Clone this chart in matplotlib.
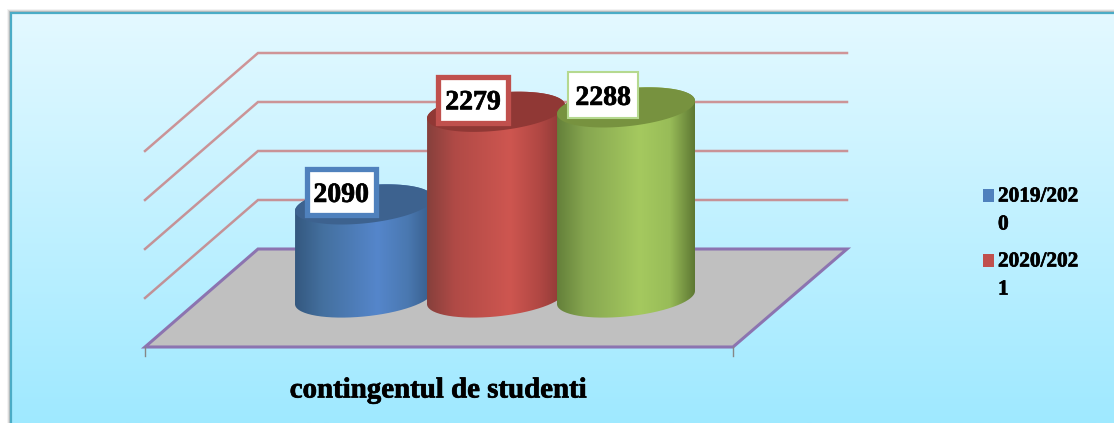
import numpy as np
import matplotlib
matplotlib.use("Agg")
import matplotlib.pyplot as plt
import matplotlib.patheffects as pe
from matplotlib.colors import LinearSegmentedColormap
from matplotlib.patches import Polygon, Rectangle
from matplotlib.path import Path

# chart values
years = ["2019/2020", "2020/2021", "2021/2022"]
values = [2090, 2279, 2288]
gridlines = [2000, 2100, 2200, 2300]
axis_min = 1900
title = "contingentul de studenti"

plt.rcParams["font.family"] = ["Liberation Serif", "DejaVu Serif"]

W, H = 1114, 423
fig = plt.figure(figsize=(W / 100, H / 100), dpi=100)
ax = fig.add_axes([0, 0, 1, 1])
ax.set_xlim(0, W)
ax.set_ylim(H, 0)
ax.axis("off")

# floor corners in pixels
front_left, front_right = 145, 733
back_left, back_right = 258, 847
front_y, back_y = 347, 249
px_per_unit = 0.49

# the reference text is heavier than plain bold
heavy = [pe.withStroke(linewidth=0.5, foreground="black")]


def val_y(v, base):
    return base - (v - axis_min) * px_per_unit


# panel background, small shadow on the left
for i, a in enumerate([0.05, 0.09, 0.14]):
    ax.add_patch(Rectangle((7 + i, 9 + i), 1114, 430, fc="black", ec="none", alpha=a, zorder=0))
bg = LinearSegmentedColormap.from_list("bg", ["#E4F9FF", "#9FE9FF"])
ax.imshow(np.linspace(0, 1, 256)[:, None], cmap=bg, extent=[10, W, H, 12], aspect="auto", zorder=1)
ax.set_xlim(0, W)
ax.set_ylim(H, 0)
ax.plot([11, 11, W], [H, 13, 13], color="#4BACC6", lw=1.6, zorder=2, solid_joinstyle="miter")

# floor
floor_pts = [(front_left, front_y), (front_right, front_y), (back_right, back_y), (back_left, back_y)]
ax.add_patch(Polygon(floor_pts, closed=True, fc="#C0C0C0", ec="#8C74B0", lw=2.2, zorder=3))
for x in (front_left, front_right):
    ax.plot([x, x], [front_y, front_y + 9], color="#868686", lw=1, zorder=3)

# gridlines
for g in gridlines:
    yb = val_y(g, back_y)
    yf = val_y(g, front_y)
    ax.plot([front_left, back_left, back_right], [yf, yb, yb], color="#C8605F", alpha=0.65,
            lw=1.8, zorder=3, solid_joinstyle="miter")

# cylinders
body_cols = [
    ["#34587F", "#44709F", "#5586CB", "#4A78B0", "#365C8A"],
    ["#86403C", "#B04A46", "#CE5650", "#B04743", "#8A3835"],
    ["#64803A", "#86A650", "#A5C95F", "#98BC58", "#5E7833"],
]
top_cols = ["#3D628F", "#903835", "#77923F"]
box_cols = ["#4F81BD", "#C0504D", "#B5D98F"]
box_lw = [3.8, 3.8, 1.5]
box_size = [(69, 46), (70, 46), (70, 46)]
centers = [364, 496, 626]
a, b, shear = 69, 19, 0.095
mid_y = 297.5
t = np.linspace(0, 2 * np.pi, 200)

for i, v in enumerate(values):
    cx = centers[i]
    top = val_y(v, mid_y)
    ex = cx + a * np.cos(t)
    ey = -shear * a * np.cos(t) + b * np.sin(t)
    # lower half of base ellipse, then back along upper half of the top one
    lo = t <= np.pi
    up = (t >= np.pi)
    xs = np.r_[ex[lo], ex[up]]
    ys = np.r_[ey[lo] + mid_y, ey[up] + top]
    body = Polygon(np.c_[xs, ys], closed=True, fc="none", ec="none", zorder=4 + i)
    ax.add_patch(body)
    cmap = LinearSegmentedColormap.from_list("b", list(zip([0, 0.2, 0.6, 0.82, 1], body_cols[i])))
    im = ax.imshow(np.linspace(0, 1, 256)[None, :], cmap=cmap,
                   extent=[cx - a, cx + a, mid_y + 25, top - 25], aspect="auto", zorder=4 + i)
    im.set_clip_path(Path(np.c_[xs, ys]), transform=ax.transData)
    ax.add_patch(Polygon(np.c_[ex, ey + top], closed=True, fc=top_cols[i], ec="none", zorder=4 + i))

ax.set_xlim(0, W)
ax.set_ylim(H, 0)

# value labels
for i, v in enumerate(values):
    lx = centers[i] - 23
    ly = val_y(v, mid_y) - 12
    w, h = box_size[i]
    ax.add_patch(Rectangle((lx - w / 2, ly - h / 2), w, h, fc="white", ec=box_cols[i],
                           lw=box_lw[i], zorder=10))
    ax.text(lx, ly + 3, str(v), fontsize=20, fontweight="bold", ha="center", va="center",
            color="black", zorder=11, path_effects=heavy)

# category title
ax.text(438.5, 390, title, fontsize=20.8, fontweight="bold", ha="center", va="center",
        color="black", zorder=11, path_effects=heavy)

# legend, the labels wrap inside the narrow box like in the original
leg_y = [196.5, 261.5]
for i in range(2):
    ax.add_patch(Rectangle((983, leg_y[i] - 7.5), 11, 13, fc=box_cols[i], ec="none", zorder=11))
    name = years[i]
    ax.text(998, leg_y[i], name[:-1], fontsize=15.3, fontweight="bold", ha="left", va="center",
            zorder=11, path_effects=heavy)
    ax.text(998, leg_y[i] + 28, name[-1], fontsize=15.3, fontweight="bold", ha="left", va="center",
            zorder=11, path_effects=heavy)

fig.savefig("out.png", dpi=100, facecolor="white")
